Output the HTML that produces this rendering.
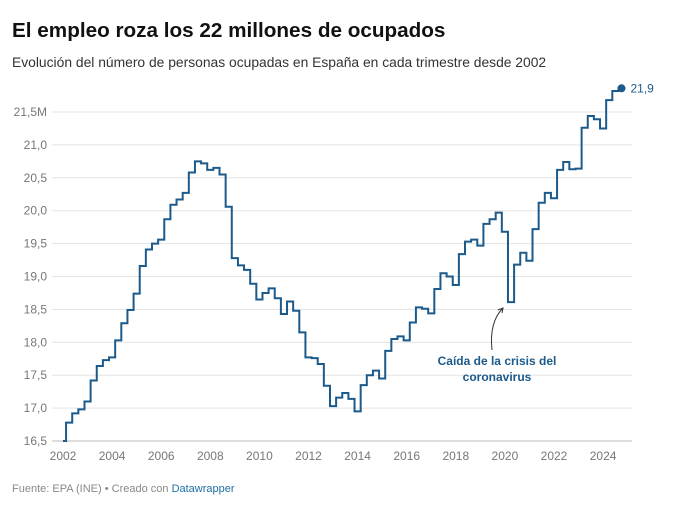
<!DOCTYPE html>
<html><head><meta charset="utf-8"><style>
body{margin:0;background:#fff;font-family:"Liberation Sans",sans-serif;}
#wrap{position:relative;width:673px;height:506px;overflow:hidden}
h1{position:absolute;left:12px;top:19px;margin:0;font-size:20.7px;font-weight:bold;color:#111}
.sub{position:absolute;left:12px;top:54px;font-size:13.85px;color:#333}
.foot{position:absolute;left:12px;top:483px;font-size:11px;color:#888}
.foot span{color:#1d6fa5}
</style></head><body>
<div id="wrap">
<h1>El empleo roza los 22 millones de ocupados</h1>
<div class="sub">Evolución del número de personas ocupadas en España en cada trimestre desde 2002</div>
<svg id="chart" width="673" height="506" style="position:absolute;left:0;top:0"></svg>
<div class="foot">Fuente: EPA (INE) • Creado con <span>Datawrapper</span></div>
</div>
<script>
const startYear = 2002;
const values = [
16.50,16.78,16.92,16.98, 17.10,17.42,17.64,17.73, 17.77,18.03,18.29,18.49, 18.74,19.16,19.41,19.50,
19.56,19.87,20.09,20.17, 20.27,20.58,20.75,20.72, 20.62,20.65,20.55,20.06, 19.28,19.17,19.10,18.89,
18.65,18.75,18.82,18.67, 18.43,18.62,18.48,18.15, 17.77,17.76,17.67,17.34, 17.03,17.16,17.23,17.14,
16.95,17.35,17.50,17.57, 17.45,17.87,18.05,18.09, 18.03,18.30,18.53,18.51, 18.44,18.81,19.05,19.00,
18.87,19.34,19.53,19.56, 19.47,19.80,19.87,19.97, 19.68,18.61,19.18,19.36, 19.24,19.72,20.12,20.27,
20.19,20.62,20.74,20.63, 20.64,21.26,21.44,21.39, 21.25,21.68,21.82,21.86];
const yTicks = [16.5,17.0,17.5,18.0,18.5,19.0,19.5,20.0,20.5,21.0,21.5];
const yTickLabels = ["16,5","17,0","17,5","18,0","18,5","19,0","19,5","20,0","20,5","21,0","21,5M"];
const xTicks = [2002,2004,2006,2008,2010,2012,2014,2016,2018,2020,2022,2024];
const lastLabel = "21,9";

const svg = document.getElementById('chart');
const NS = 'http://www.w3.org/2000/svg';
const x = t => 63 + (t - 2002) * 24.55;
const y = v => 441 - (v - 16.5) * 65.8;
function mk(tag, attrs){const e=document.createElementNS(NS,tag);for(const k in attrs)e.setAttribute(k,attrs[k]);svg.appendChild(e);return e;}

yTicks.forEach((v,i)=>{
  const g = mk('line',{x1:52,x2:632,y1:y(v),y2:y(v),stroke:i===0?'#bbb':'#e3e3e3','stroke-width':1});
  
  
  const t = mk('text',{x:47,y:y(v)+4,'text-anchor':'end','font-size':12,fill:'#777','font-family':'Liberation Sans, sans-serif'});
  t.textContent = yTickLabels[i];
  
  
});
xTicks.forEach(yr=>{
  const t = mk('text',{x:x(yr),y:460,'text-anchor':'middle','font-size':12,fill:'#777','font-family':'Liberation Sans, sans-serif'});
  t.textContent = yr;
  
  
});

let d = '';
values.forEach((v,i)=>{
  const xi = x(startYear + i/4);
  if(i===0){ d += 'M'+xi+','+y(v); }
  else {
    const xm = (x(startYear+(i-1)/4)+xi)/2;
    d += 'H'+xm+'V'+y(v);
  }
  if(i===values.length-1) d += 'H'+xi;
});
const p = mk('path',{d:d,fill:'none',stroke:'#1b5a8a','stroke-width':2,'stroke-linejoin':'miter'});



const li = values.length-1;
const dot = mk('circle',{cx:x(startYear+li/4),cy:y(values[li]),r:4,fill:'#1b5a8a'});


const lt = mk('text',{x:x(startYear+li/4)+9,y:y(values[li])+4,'font-size':12,fill:'#1b5a8a','font-family':'Liberation Sans, sans-serif'});
lt.textContent = lastLabel;



const arr = mk('path',{d:'M492,350 Q489,322 503,308',fill:'none',stroke:'#333','stroke-width':1});


const ah = mk('path',{d:'M498,310 L503,308 L502,313',fill:'none',stroke:'#333','stroke-width':1});


['Caída de la crisis del','coronavirus'].forEach((s,i)=>{
  const t = mk('text',{x:497,y:365+i*16,'text-anchor':'middle','font-size':12,'font-weight':'bold',fill:'#1b5a8a','font-family':'Liberation Sans, sans-serif'});
  t.textContent = s;
  
  
});
</script>
</body></html>
